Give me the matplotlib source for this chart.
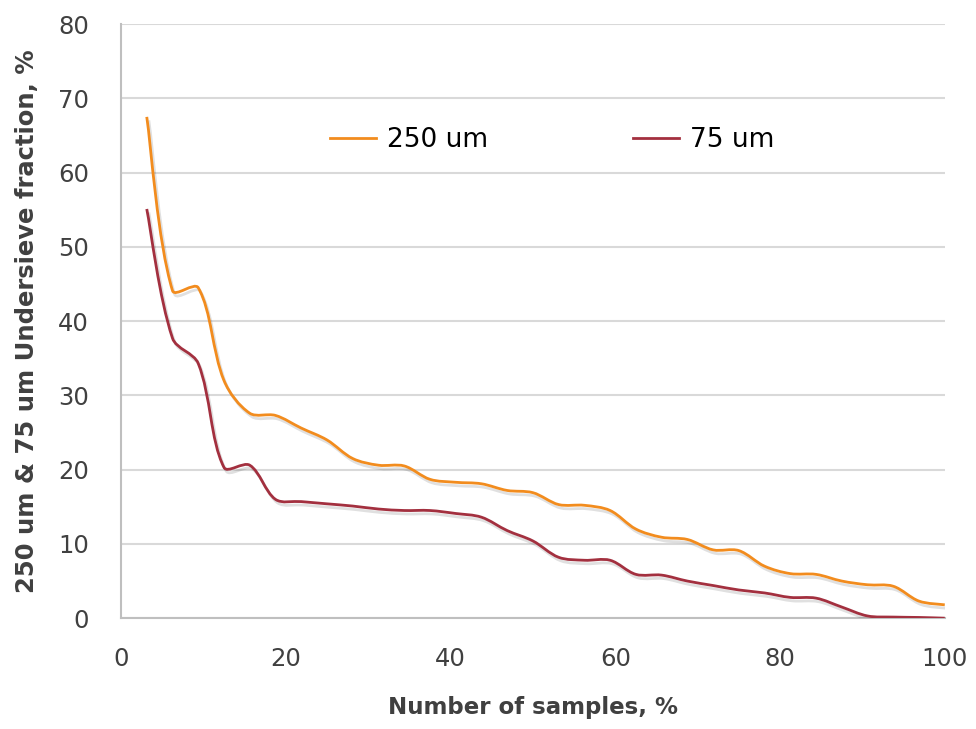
"""
Undersieve fraction vs number of samples (smoothed lines, Excel-style)
"""
import numpy as np
import matplotlib
matplotlib.use('Agg')
import matplotlib.pyplot as plt
import matplotlib.patheffects as pe
from matplotlib.path import Path
from matplotlib.patches import PathPatch
from matplotlib.lines import Line2D

# sample positions, % of samples (32 samples)
samples_pct = [3.125, 6.25, 9.375, 12.5, 15.625, 18.75, 21.875, 25.0,
               28.125, 31.25, 34.375, 37.5, 40.625, 43.75, 46.875, 50.0,
               53.125, 56.25, 59.375, 62.5, 65.625, 68.75, 71.875, 75.0,
               78.125, 81.25, 84.375, 87.5, 90.625, 93.75, 96.875, 100.0]

under_250 = [67.5, 44.1, 44.5, 32.0, 27.6, 27.3, 25.6, 24.0,
             21.5, 20.6, 20.5, 18.7, 18.3, 18.1, 17.2, 16.9,
             15.3, 15.2, 14.5, 12.0, 10.9, 10.6, 9.2, 9.1,
             7.0, 6.0, 5.9, 5.0, 4.5, 4.3, 2.3, 1.8]

under_75 = [55.1, 37.7, 34.3, 20.3, 20.6, 16.0, 15.7, 15.4,
            15.1, 14.7, 14.5, 14.5, 14.1, 13.6, 11.8, 10.4,
            8.2, 7.8, 7.8, 5.9, 5.8, 5.0, 4.4, 3.8,
            3.4, 2.8, 2.7, 1.5, 0.3, 0.15, 0.1, 0.0]

labels = ['250 um', '75 um']
colors = ['#F28C1E', '#A3303F']
TEXT = '#404040'


def smooth_path(x, y, sx=8.24, sy=7.425, k=1.0 / 6):
    """Bezier path through the points; control arms scaled by on-screen segment length."""
    x = np.asarray(x, float)
    y = np.asarray(y, float)
    n = len(x)
    seg = np.hypot(np.diff(x) * sx, np.diff(y) * sy)
    arms_out, arms_in = [], []
    for i in range(n):
        i0 = max(i - 1, 0)
        i1 = min(i + 1, n - 1)
        tx, ty = x[i1] - x[i0], y[i1] - y[i0]
        d_prev = seg[i - 1] if i > 0 else seg[0]
        d_next = seg[i] if i < n - 1 else seg[-1]
        tot = d_prev + d_next
        arms_out.append((tx * k * 2 * d_next / tot, ty * k * 2 * d_next / tot))
        arms_in.append((tx * k * 2 * d_prev / tot, ty * k * 2 * d_prev / tot))
    verts = [(x[0], y[0])]
    codes = [Path.MOVETO]
    for i in range(n - 1):
        c1 = (x[i] + arms_out[i][0], y[i] + arms_out[i][1])
        c2 = (x[i + 1] - arms_in[i + 1][0], y[i + 1] - arms_in[i + 1][1])
        verts += [c1, c2, (x[i + 1], y[i + 1])]
        codes += [Path.CURVE4] * 3
    return Path(verts, codes)


fig = plt.figure(figsize=(9.76, 7.29), dpi=100)
ax = fig.add_axes([0.124, 0.152, 0.844, 0.815])

shadow = [pe.SimpleLineShadow(offset=(1.5, -2.5), shadow_color='black', alpha=0.12),
          pe.Normal()]

for series, color in zip([under_250, under_75], colors):
    patch = PathPatch(smooth_path(samples_pct, series), facecolor='none',
                      edgecolor=color, linewidth=2, capstyle='butt',
                      transform=ax.transData, zorder=3)
    patch.set_path_effects(shadow)
    ax.add_patch(patch)

ax.set_xlim(0, 100)
ax.set_ylim(0, 80)
ax.set_xticks(range(0, 101, 20))
ax.set_yticks(range(0, 81, 10))
ax.grid(axis='y', color='#d9d9d9', linewidth=1.5)
ax.set_axisbelow(True)

for side in ['top', 'right']:
    ax.spines[side].set_visible(False)
for side in ['left', 'bottom']:
    ax.spines[side].set_color('#bfbfbf')
    ax.spines[side].set_linewidth(1.5)

ax.tick_params(length=0, labelsize=17.5, labelcolor=TEXT)
ax.tick_params(axis='y', pad=23)
ax.tick_params(axis='x', pad=21)

ax.set_xlabel('Number of samples, %', fontsize=16.5, fontweight='bold',
              color=TEXT, labelpad=18)
ax.set_ylabel('250 um & 75 um Undersieve fraction, %', fontsize=17.5,
              fontweight='bold', color=TEXT, labelpad=14)

handles = [Line2D([], [], color=c, linewidth=2) for c in colors]
ax.legend(handles, labels, ncol=2, frameon=False, loc='center',
          bbox_to_anchor=(0.523, 0.805), fontsize=19, handlelength=1.75,
          handletextpad=0.4, columnspacing=5.5, labelcolor='black')

plt.savefig('out.png', dpi=100)
